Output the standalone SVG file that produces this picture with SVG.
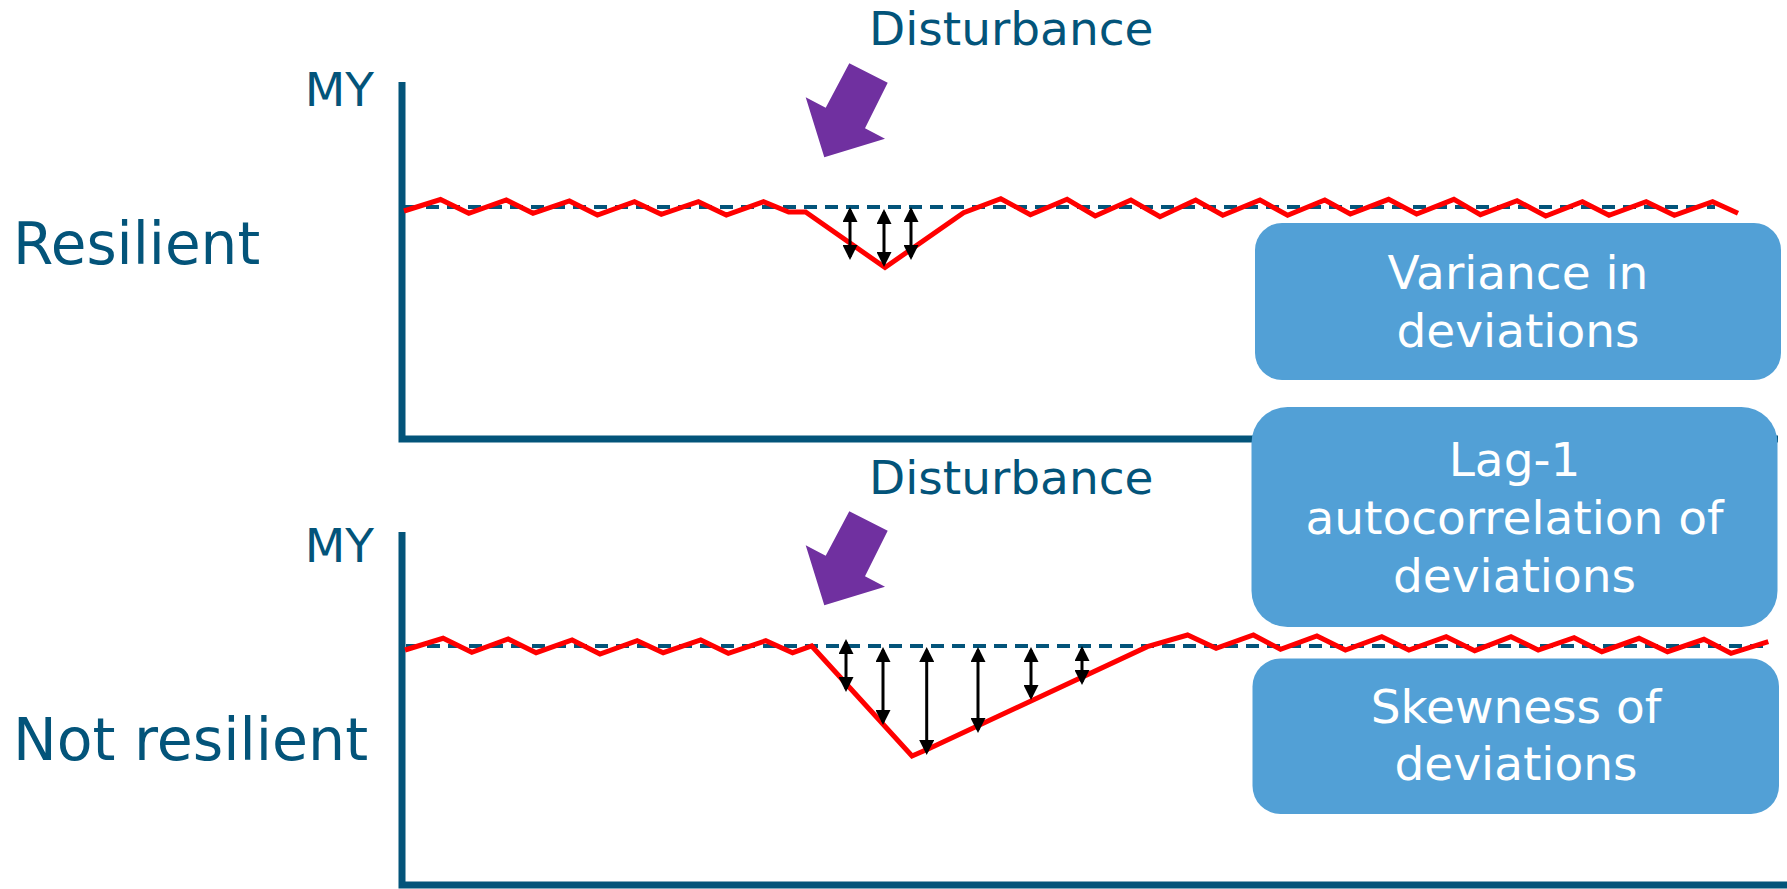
<svg xmlns="http://www.w3.org/2000/svg" width="1787" height="889" viewBox="0 0 1787 889">
<style>
.lbl{font-family:"DejaVu Sans","Liberation Sans",sans-serif;fill:#03547a}
.box{fill:#52a0d6}
.bt{font-family:"DejaVu Sans","Liberation Sans",sans-serif;fill:#ffffff;font-size:47px;text-anchor:middle}
.axis{fill:none;stroke:#03547a;stroke-width:7;stroke-linejoin:miter}
.base{fill:none;stroke:#03547a;stroke-width:4;stroke-dasharray:13 8}
.sig{fill:none;stroke:#ff0000;stroke-width:5;stroke-linejoin:miter}
.dev{stroke:#000;stroke-width:3;marker-start:url(#ah);marker-end:url(#ah)}
.dist{fill:#7030a0}
</style>
<defs>
<marker id="ah" viewBox="0 0 15 15" markerWidth="15" markerHeight="15" refX="12" refY="7.5" orient="auto-start-reverse" markerUnits="userSpaceOnUse">
<path d="M0,0 L15,7.5 L0,15 z" fill="#000"/>
</marker>
</defs>

<g id="panel-top">
<polyline class="axis" points="402,82 402,439 1778,439"/>
<text class="lbl" x="374" y="106" font-size="47" text-anchor="end">MY</text>
<text class="lbl" x="13" y="264" font-size="58">Resilient</text>
<text class="lbl" x="869" y="45" font-size="47">Disturbance</text>
<polygon class="dist" points="849.3,63.3 887.7,82.7 865,128.3 885,138.7 824.3,157.3 805.7,97.3 825.7,107.7"/>
<line class="base" x1="405" y1="207" x2="1715" y2="207"/>
<polyline class="sig" points="404,211 440.5,199.5 468.8,213.3 506.3,200 533,213.3 569.4,201 597.4,215 634.5,201.7 661.3,214.3 698.4,201.7 726.3,215 763.5,201.7 788.7,212 805.6,212 885,267.5 963.6,212.7 1000.8,198.7 1030.4,214.7 1067.1,199.3 1095.2,216 1130.9,200 1160,216.7 1195.7,200 1222.8,215.3 1260,200 1287.6,215.3 1324.8,200 1350.3,214 1388.6,199.3 1416.6,214 1453.9,199.3 1480.4,214.7 1517.1,200.7 1545.7,216 1582.4,201.7 1609,215.3 1646.2,201.7 1674.3,215.3 1712.6,201.7 1738,213.3"/>
</g>

<g id="panel-bottom">
<polyline class="axis" points="402,532 402,885 1787,885"/>
<text class="lbl" x="374" y="562" font-size="47" text-anchor="end">MY</text>
<text class="lbl" x="13" y="760" font-size="58.5">Not resilient</text>
<text class="lbl" x="869" y="494" font-size="47">Disturbance</text>
<polygon class="dist" transform="translate(0,448)" points="849.3,63.3 887.7,82.7 865,128.3 885,138.7 824.3,157.3 805.7,97.3 825.7,107.7"/>
<line class="base" x1="406" y1="646" x2="1766" y2="646"/>
<polyline class="sig" points="405,650 443.1,638.3 471.8,652.3 508.2,639 536.1,652.7 572.1,640 600,654 637.2,640.7 663.2,652.7 700.7,640 728.3,653.3 765.8,640.7 792.6,652.7 811.7,646 912,756 929.2,748.5 1147.3,646.7 1187.6,635 1216.1,648.3 1253.4,635 1280.5,649.3 1316.9,636 1345.4,650 1381.8,636.7 1408.9,650 1446.2,636.7 1474.7,650.7 1511,636.7 1538.2,650 1574.1,637.7 1601.8,651.7 1639,638.3 1667.5,651.7 1703.9,639.3 1731,653.3 1768.3,641.7"/>
</g>

<g id="connectors">
<line class="dev" x1="850" y1="210" x2="850" y2="257"/>
<line class="dev" x1="884" y1="212" x2="884" y2="264"/>
<line class="dev" x1="911" y1="210" x2="911" y2="257"/>
<line class="dev" x1="846" y1="642" x2="846" y2="689"/>
<line class="dev" x1="883" y1="650" x2="883" y2="722"/>
<line class="dev" x1="926.7" y1="650" x2="926.7" y2="752"/>
<line class="dev" x1="978" y1="650" x2="978" y2="730"/>
<line class="dev" x1="1031" y1="650" x2="1031" y2="697"/>
<line class="dev" x1="1082" y1="649" x2="1082" y2="682"/>
</g>

<g id="box-variance">
<rect class="box" x="1255" y="223" width="526" height="157" rx="27" ry="27"/>
<text class="bt" x="1518" y="289">Variance in</text>
<text class="bt" x="1518" y="347">deviations</text>
</g>

<g id="box-lag1">
<rect class="box" x="1251.5" y="407" width="526" height="220" rx="36" ry="36"/>
<text class="bt" x="1514.5" y="476">Lag-1</text>
<text class="bt" x="1514.5" y="534">autocorrelation of</text>
<text class="bt" x="1514.5" y="592">deviations</text>
</g>

<g id="box-skewness">
<rect class="box" x="1252.5" y="658.5" width="526.5" height="155.5" rx="28" ry="28"/>
<text class="bt" x="1516" y="723">Skewness of</text>
<text class="bt" x="1516" y="780">deviations</text>
</g>
</svg>
